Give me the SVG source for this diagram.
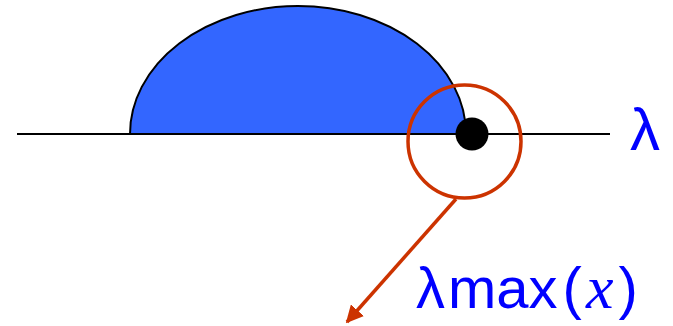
<svg xmlns="http://www.w3.org/2000/svg" width="673" height="326" viewBox="0 0 673 326">
<defs>
<marker id="ah" viewBox="0 0 10 10" refX="9" refY="5" markerWidth="5" markerHeight="5" markerUnits="strokeWidth" orient="auto">
<path d="M0,0 L10,5 L0,10 z" fill="#cc3300"/>
</marker>
<style>
.lbl{fill:#0000ff;font-family:"Liberation Sans",sans-serif}
</style>
</defs>
<rect width="673" height="326" fill="#ffffff"/>
<g id="region">
<path d="M130,134 A168,128 0 0 1 466,134 Z" fill="#3366ff" stroke="#000" stroke-width="2"/>
</g>
<g id="axis">
<line x1="17" y1="134" x2="610" y2="134" stroke="#000" stroke-width="2"/>
</g>
<g id="dot">
<circle cx="472" cy="134" r="16.5" fill="#000"/>
</g>
<g id="focus">
<circle cx="464.5" cy="141.5" r="56.5" fill="none" stroke="#cc3300" stroke-width="3.5"/>
</g>
<g id="connectors">
<line x1="456" y1="199" x2="347" y2="322" stroke="#cc3300" stroke-width="3.5" marker-end="url(#ah)"/>
</g>
<g id="labels">
<text class="lbl" x="630" y="150" font-size="60">λ</text>
<text class="lbl" x="416" y="308" font-size="58">λ<tspan dx="3">max</tspan><tspan dx="5">(</tspan><tspan font-family="Liberation Serif,serif" font-style="italic" font-size="62" dx="4">x</tspan><tspan dx="5">)</tspan></text>
</g>
</svg>
